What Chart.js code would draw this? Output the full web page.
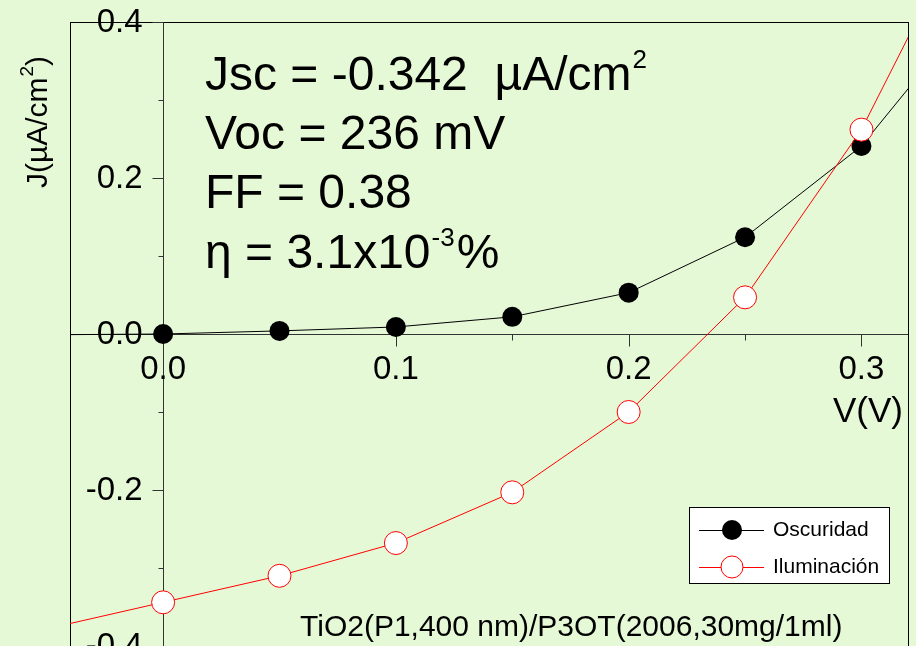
<!DOCTYPE html>
<html>
<head>
<meta charset="utf-8">
<title>Curva J-V</title>
<script src="https://cdn.jsdelivr.net/npm/chart.js@4.4.1/dist/chart.umd.min.js"></script>
<style>
  html, body { margin: 0; padding: 0; background: #e6f9d7; }
  #jvChart { display: block; }
</style>
</head>
<body>
<canvas id="jvChart" width="916" height="646"></canvas>
<script>
// J-V data, dark and illuminated (V in volts, J in uA/cm2)
var voltage = [-0.05, 0, 0.05, 0.1, 0.15, 0.2, 0.25, 0.3, 0.35];
var darkJ = [-0.001, 0, 0.004, 0.009, 0.022, 0.053, 0.124, 0.241, 0.424];
var lightJ = [-0.378, -0.344, -0.310, -0.268, -0.203, -0.100, 0.047, 0.262, 0.557];
var seriesNames = ['Oscuridad', 'Iluminación'];

var xTicks = [0, 0.1, 0.2, 0.3];
var xMinor = [0.05, 0.15, 0.25];
var yTicks = [-0.4, -0.2, 0, 0.2, 0.4];
var yMinor = [-0.3, -0.1, 0.1, 0.3];

var BG = '#e6f9d7';
var FONT = '"Liberation Sans", Arial, sans-serif';

function font(px) { return px + 'px ' + FONT; }

function points(ys) {
    return voltage.map(function (v, i) { return { x: v, y: ys[i] }; });
}

// draws base text followed by a small raised part, returns the x where it ends
function supText(ctx, base, sup, x, y, size, supSize, rise) {
    ctx.font = font(size);
    ctx.fillText(base, x, y);
    var w = ctx.measureText(base).width;
    ctx.font = font(supSize);
    ctx.fillText(sup, x + w + 1, y - rise);
    return x + w + 1 + ctx.measureText(sup).width;
}

var px = function (v) { return Math.round(v) + 0.5; };

var jvAxes = {
    id: 'jvAxes',
    beforeDraw: function (chart) {
        var ctx = chart.ctx;
        ctx.save();
        ctx.fillStyle = BG;
        ctx.fillRect(0, 0, chart.width, chart.height);
        ctx.restore();
    },
    beforeDatasetsDraw: function (chart) {
        var ctx = chart.ctx, a = chart.chartArea;
        var xs = chart.scales.x, ys = chart.scales.y;
        var x0 = px(xs.getPixelForValue(0)), y0 = px(ys.getPixelForValue(0));

        ctx.save();
        ctx.lineWidth = 1;
        ctx.strokeStyle = '#000';
        ctx.strokeRect(px(a.left), px(a.top), Math.round(a.right - a.left), Math.round(a.bottom - a.top));

        // axes crossing at the origin
        ctx.strokeStyle = '#333';
        ctx.beginPath();
        ctx.moveTo(a.left, y0); ctx.lineTo(a.right, y0);
        ctx.moveTo(x0, a.top); ctx.lineTo(x0, a.bottom);
        yTicks.forEach(function (t) {
            var y = px(ys.getPixelForValue(t));
            ctx.moveTo(x0 - 11, y); ctx.lineTo(x0, y);
        });
        yMinor.forEach(function (t) {
            var y = px(ys.getPixelForValue(t));
            ctx.moveTo(x0 - 5, y); ctx.lineTo(x0, y);
        });
        xTicks.forEach(function (t) {
            var x = px(xs.getPixelForValue(t));
            ctx.moveTo(x, y0); ctx.lineTo(x, y0 + 12);
        });
        xMinor.forEach(function (t) {
            var x = px(xs.getPixelForValue(t));
            ctx.moveTo(x, y0); ctx.lineTo(x, y0 + 6);
        });
        ctx.stroke();

        // tick labels
        ctx.fillStyle = '#000';
        ctx.font = font(33);
        ctx.textBaseline = 'middle';
        ctx.textAlign = 'right';
        yTicks.forEach(function (t) {
            ctx.fillText(t.toFixed(1), x0 - 21, ys.getPixelForValue(t) + 1);
        });
        ctx.textAlign = 'center';
        xTicks.forEach(function (t) {
            ctx.fillText(t.toFixed(1), xs.getPixelForValue(t), y0 + 35);
        });
        ctx.font = font(35);
        ctx.textAlign = 'right';
        ctx.fillText('V(V)', a.right - 5, y0 + 78);

        // vertical axis title
        ctx.save();
        ctx.translate(37, 122);
        ctx.rotate(-Math.PI / 2);
        ctx.textAlign = 'left';
        ctx.textBaseline = 'alphabetic';
        ctx.font = font(30);
        var w1 = ctx.measureText('J(\u00b5A/cm').width;
        ctx.font = font(19);
        var w2 = ctx.measureText('2').width;
        ctx.font = font(30);
        var w3 = ctx.measureText(')').width;
        var sx = -(w1 + w2 + w3 + 1) / 2;
        var ex = supText(ctx, 'J(\u00b5A/cm', '2', sx, 10, 30, 19, 14);
        ctx.font = font(30);
        ctx.fillText(')', ex, 10);
        ctx.restore();

        // cell parameters
        ctx.textAlign = 'left';
        ctx.textBaseline = 'alphabetic';
        var big = 48;
        supText(ctx, 'Jsc = -0.342  \u00b5A/cm', '2', 205, 90, big, 26, 22);
        ctx.font = font(big);
        ctx.fillText('Voc = 236 mV', 205, 149);
        ctx.fillText('FF = 0.38', 205, 208);
        var ex2 = supText(ctx, '\u03b7 = 3.1x10', '-3', 205, 268, big, 26, 22);
        ctx.font = font(big);
        ctx.fillText('%', ex2 + 2, 268);

        // sample description
        ctx.font = font(30);
        ctx.fillText('TiO2(P1,400 nm)/P3OT(2006,30mg/1ml)', 300, 636);
        ctx.restore();
    },
    afterDatasetsDraw: function (chart) {
        var ctx = chart.ctx;
        var bx = 689, by = 507, bw = 200, bh = 76;
        ctx.save();
        ctx.fillStyle = '#fff';
        ctx.fillRect(bx, by, bw, bh);
        ctx.strokeStyle = '#000';
        ctx.lineWidth = 1;
        ctx.strokeRect(bx + 0.5, by + 0.5, bw, bh);

        var rows = [
            { y: 530, line: '#000', fill: '#000', r: 10 },
            { y: 567, line: '#ff0000', fill: '#fff', r: 11 }
        ];
        rows.forEach(function (row, i) {
            ctx.strokeStyle = row.line;
            ctx.beginPath();
            ctx.moveTo(699, row.y + 0.5); ctx.lineTo(764, row.y + 0.5);
            ctx.stroke();
            ctx.beginPath();
            ctx.arc(732, row.y, row.r, 0, Math.PI * 2);
            ctx.fillStyle = row.fill;
            ctx.fill();
            if (i === 1) ctx.stroke();
            ctx.fillStyle = '#000';
            ctx.font = font(21);
            ctx.textBaseline = 'middle';
            ctx.fillText(seriesNames[i], 773, row.y);
        });
        ctx.restore();
    }
};

var ctx = document.getElementById('jvChart').getContext('2d');
var jvChart = new Chart(ctx, {
    type: 'line',
    data: {
        datasets: [{
            label: seriesNames[1],
            data: points(lightJ),
            order: 0,
            borderColor: '#ff0000',
            borderWidth: 1,
            pointRadius: 11.5,
            pointBackgroundColor: '#ffffff',
            pointBorderColor: '#ff0000',
            pointBorderWidth: 1,
            tension: 0
        }, {
            label: seriesNames[0],
            data: points(darkJ),
            order: 1,
            borderColor: '#000000',
            borderWidth: 1,
            pointRadius: 10,
            pointBackgroundColor: '#000000',
            pointBorderWidth: 0,
            tension: 0
        }]
    },
    options: {
        responsive: false,
        animation: false,
        devicePixelRatio: 1,
        layout: { autoPadding: false, padding: { left: 70, top: 22, right: 8, bottom: 0 } },
        plugins: {
            legend: { display: false },
            tooltip: { enabled: false }
        },
        scales: {
            x: { type: 'linear', min: -0.04, max: 0.32, display: false },
            y: { type: 'linear', min: -0.4, max: 0.4, display: false }
        }
    },
    plugins: [jvAxes]
});
</script>
</body>
</html>
